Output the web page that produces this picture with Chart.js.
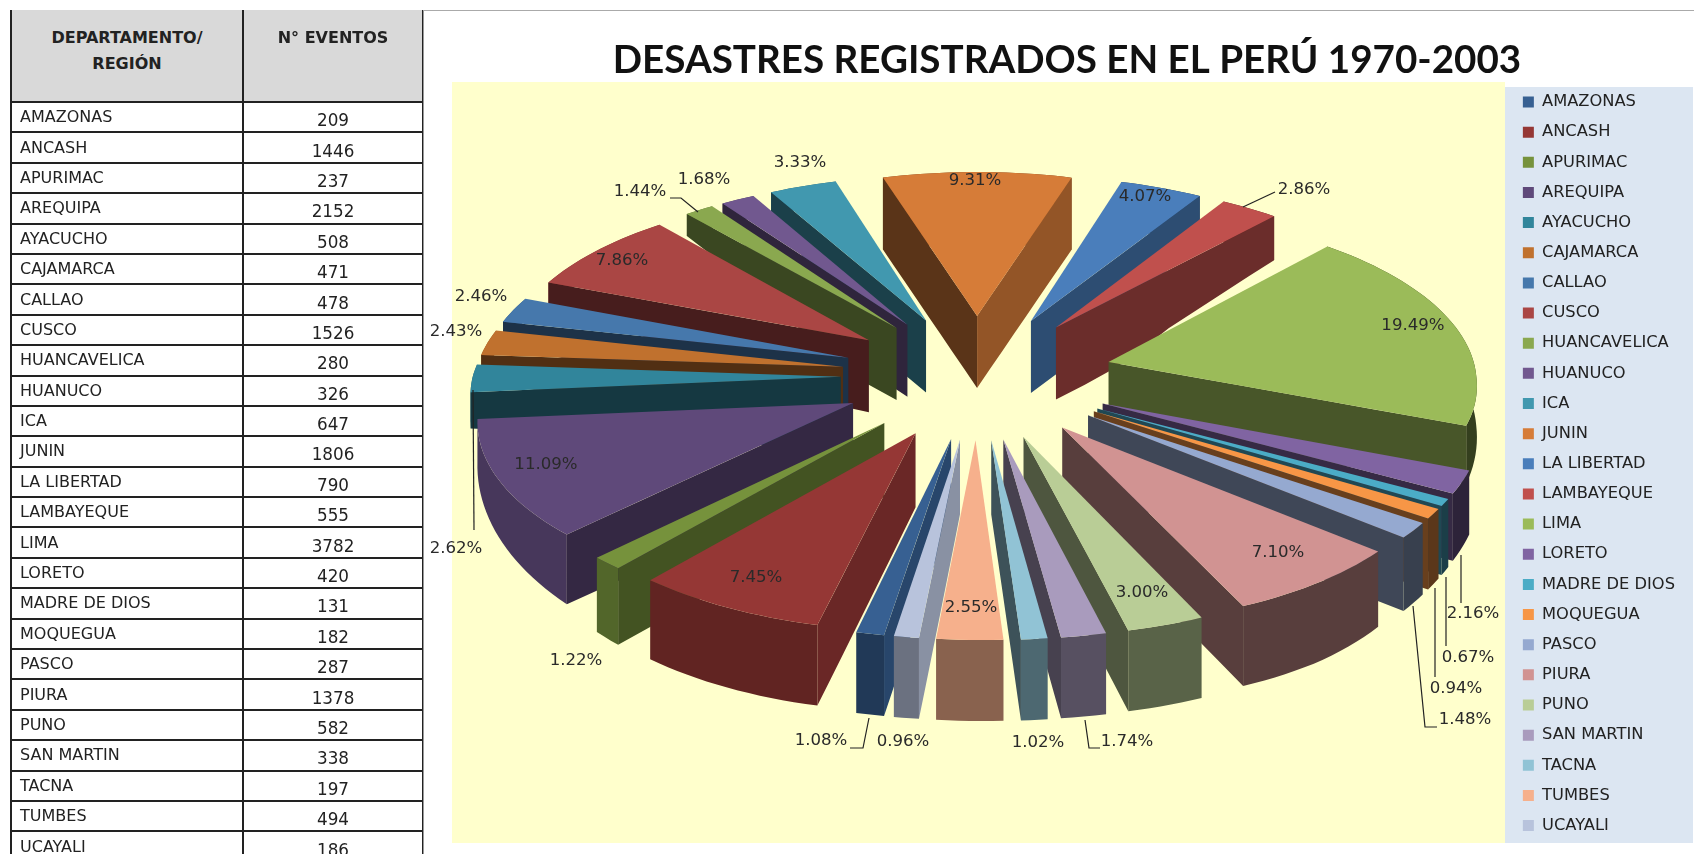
<!DOCTYPE html>
<html lang="es">
<head>
<meta charset="utf-8">
<title>Desastres registrados en el Perú 1970-2003</title>
<script src="https://cdn.jsdelivr.net/npm/chart.js@4/dist/chart.umd.js"></script>
<style>
html,body{margin:0;padding:0;width:1694px;height:854px;overflow:hidden;background:#fff}
#tableWrap{position:absolute;left:9px;top:10px;width:414px;height:844px;overflow:hidden;filter:blur(.4px)}
table{border-collapse:collapse;table-layout:fixed;width:412px;font-family:"DejaVu Sans",sans-serif;color:#222;margin-left:1px}
col.a{width:232px}col.b{width:180px}
th,td{border:2px solid #222;padding:0;box-sizing:border-box;overflow:hidden;white-space:nowrap}
th{height:92px;background:#d9d9d9;font-size:16px;line-height:25.5px;font-weight:bold;vertical-align:top;padding-top:15px;text-align:center;border-top:none}
td{height:30.4px;font-size:16px}
td.n{padding-left:8px;padding-bottom:1px}
td.v{text-align:center;padding-top:6px;font-size:16.8px}
#edge{position:absolute;left:423px;top:10px;width:1px;height:844px;background:#999}
#topline{position:absolute;left:423px;top:10px;width:1271px;height:1px;background:#aaa}
#holder{position:absolute;left:425px;top:0;width:1260px;height:848px;filter:blur(.4px)}
#legendBack{position:absolute;left:1505px;top:87px;width:188px;height:756px;background:#dce6f2}
</style>
</head>
<body>
<div id="tableWrap"><table id="tbl"></table></div>
<div id="edge"></div><div id="topline"></div>
<div id="legendBack"></div>
<div id="holder"><canvas id="cv"></canvas></div>
<script>
const categories = ["AMAZONAS","ANCASH","APURIMAC","AREQUIPA","AYACUCHO","CAJAMARCA","CALLAO","CUSCO","HUANCAVELICA","HUANUCO","ICA","JUNIN","LA LIBERTAD","LAMBAYEQUE","LIMA","LORETO","MADRE DE DIOS","MOQUEGUA","PASCO","PIURA","PUNO","SAN MARTIN","TACNA","TUMBES","UCAYALI"];
const eventCounts = [209,1446,237,2152,508,471,478,1526,280,326,647,1806,790,555,3782,420,131,182,287,1378,582,338,197,494,186];
const tableHeaders = ["DEPARTAMENTO/<br>REGIÓN","N° EVENTOS"];
const titleText = "DESASTRES REGISTRADOS EN EL PERÚ 1970-2003";
const sliceColors = ["#376092","#953735","#76923c","#5f497a","#31859b","#c0712e","#4678ac","#aa4644","#8aa84f","#71588f","#4198af","#d67c38","#4a7ebb","#c0504d","#9bbb59","#8064a2","#4bacc6","#f79646","#95a9d0","#d19392","#b9cd96","#a99bbd","#91c3d5","#f6b08c","#b8c3dc"];

/* Label annotation placement (page pixels), not data */
const labelPlaces = [
 {x:821,y:741,line:[[850,748],[863,748],[869,718]]},{x:756,y:578},{x:576,y:661},{x:546,y:465},
 {x:456,y:549,line:[[474,530],[473,390]]},{x:456,y:332},{x:481,y:297},{x:622,y:261},
 {x:640,y:192,line:[[670,198],[681,198],[698,212]]},{x:704,y:180},{x:800,y:163},{x:975,y:181},
 {x:1145,y:197},{x:1304,y:190,line:[[1275,192],[1243,207]]},{x:1413,y:326},
 {x:1473,y:614,line:[[1461,603],[1461,555]]},{x:1468,y:658,line:[[1446,646],[1446,577]]},
 {x:1456,y:689,line:[[1435,677],[1435,588]]},{x:1465,y:720,line:[[1437,727],[1425,727],[1413,606]]},
 {x:1278,y:553},{x:1142,y:593},{x:1127,y:742,line:[[1100,748],[1089,748],[1085,720]]},
 {x:1038,y:743},{x:971,y:608},{x:903,y:742}
];

const canvasLeft = 425;
const view = {cx:977-canvasLeft, cy:376, persp:0.0936, ground:168, explode:0.37, frontShear:7};
const plotBox = {l:452,t:82,r:1505,b:843};

/* table */
(function(){
  let html='<colgroup><col class="a"><col class="b"></colgroup><tr><th>'+tableHeaders[0]+'</th><th>'+tableHeaders[1]+'</th></tr>';
  categories.forEach((c,i)=>{html+='<tr><td class="n">'+c+'</td><td class="v">'+eventCounts[i]+'</td></tr>';});
  document.getElementById('tbl').innerHTML=html;
})();

function shade(hex,f){
  const n=parseInt(hex.slice(1),16);
  return 'rgb('+Math.round((n>>16&255)*f)+','+Math.round((n>>8&255)*f)+','+Math.round((n&255)*f)+')';
}
function clamp01(v){return Math.max(0,Math.min(1,v));}
function project(X,Y){
  const s=1/(1-view.persp*Y);
  return {x:view.cx+X*s+view.frontShear*Math.max(0,Y), y:view.cy+view.ground*Y*s};
}
/* wall height in px for a ground point (u and Y in radius units) */
function wallHeight(u,Y){
  const r=Math.hypot(u,Y);
  const f=clamp01((r-0.4)/0.95);
  const w=1-clamp01(Y/(r||1)+0.2);
  const g=clamp01((Math.abs(u)-0.35)/0.2);
  return 72+9*Math.max(0,Y)/1.37-f*w*g*(u<0?50:28);
}

const pie3d={
  id:'pie3d',
  beforeDraw(chart){
    const c=chart.ctx;
    c.save();
    c.fillStyle='#ffffcc';
    c.fillRect(plotBox.l-canvasLeft,plotBox.t,plotBox.r-plotBox.l,plotBox.b-plotBox.t);
    c.restore();
  },
  beforeDatasetsDraw(chart){
    const c=chart.ctx, arcs=chart.getDatasetMeta(0).data;
    const items=arcs.map((el,i)=>{
      const mid=(el.startAngle+el.endAngle)/2;
      return {el,i,mid};
    }).sort((a,b)=>Math.sin(a.mid)-Math.sin(b.mid));
    c.save();
    items.forEach(({el,i,mid})=>{
      const R=el.outerRadius, color=el.options.backgroundColor;
      const ox=Math.cos(mid)*view.explode, oy=Math.sin(mid)*view.explode;
      const pt=(u,v)=>{const p=project(u*R,v);return {x:p.x,y:p.y,h:wallHeight(u,v)};};
      const apex=pt(ox,oy);
      const steps=Math.max(2,Math.ceil((el.endAngle-el.startAngle)/0.03));
      const rim=[];
      for(let k=0;k<=steps;k++){
        const a=el.startAngle+(el.endAngle-el.startAngle)*k/steps;
        rim.push(pt(ox+Math.cos(a),oy+Math.sin(a)));
      }
      const rimShade=0.55-0.22*Math.cos(mid);
      const inner=rim[Math.floor(steps/2)];
      const radial=[[rim[0],el.startAngle],[rim[steps],el.endAngle]];
      const edgeWall=(end,a)=>{
        const cross=(end.x-apex.x)*(inner.y-apex.y)-(end.y-apex.y)*(inner.x-apex.x);
        const down=(end.x-apex.x);
        if(cross*down>=0) return;
        const pts=[];
        for(let t=0;t<=8;t++){
          pts.push(pt(ox+Math.cos(a)*t/8,oy+Math.sin(a)*t/8));
        }
        /* walls on the right of their slice catch more light the steeper they run */
        const steep=Math.abs(end.y-apex.y)/Math.hypot(end.x-apex.x,end.y-apex.y);
        c.fillStyle=shade(color,end.x>inner.x?0.4+0.35*steep:0.42);
        c.beginPath();
        pts.forEach((p,n)=>n?c.lineTo(p.x,p.y):c.moveTo(p.x,p.y));
        for(let n=pts.length-1;n>=0;n--) c.lineTo(pts[n].x,pts[n].y+pts[n].h);
        c.closePath();c.fill();
      };
      // outer wall
      c.fillStyle=shade(color,rimShade);
      c.beginPath();
      rim.forEach((p,n)=>n?c.lineTo(p.x,p.y):c.moveTo(p.x,p.y));
      for(let n=steps;n>=0;n--) c.lineTo(rim[n].x,rim[n].y+rim[n].h);
      c.closePath();c.fill();
      // radial walls
      radial.forEach(([end,a])=>edgeWall(end,a));
      // top face
      c.fillStyle=color;
      c.beginPath();
      c.moveTo(apex.x,apex.y);
      rim.forEach(p=>c.lineTo(p.x,p.y));
      c.closePath();c.fill();
    });
    // labels
    const total=eventCounts.reduce((a,b)=>a+b,0);
    c.font='16.6px "DejaVu Sans", sans-serif';
    c.textAlign='center';c.textBaseline='middle';
    labelPlaces.forEach((p,i)=>{
      if(p.line){
        c.strokeStyle='#222';c.lineWidth=1.2;c.beginPath();
        p.line.forEach((q,n)=>n?c.lineTo(q[0]-canvasLeft,q[1]):c.moveTo(q[0]-canvasLeft,q[1]));
        c.stroke();
      }
      c.fillStyle='#2a2a2a';
      c.fillText((eventCounts[i]/total*100).toFixed(2)+'%',p.x-canvasLeft,p.y);
    });
    c.restore();
    return false;
  }
};

new Chart(document.getElementById('cv'),{
  type:'pie',
  data:{labels:categories,datasets:[{data:eventCounts,backgroundColor:sliceColors,borderWidth:0,offset:0}]},
  plugins:[pie3d],
  options:{
    responsive:true,maintainAspectRatio:false,animation:false,
    rotation:-170.3,radius:368,
    layout:{padding:{left:24}},
    plugins:{
      tooltip:{enabled:false},
      title:{display:true,text:titleText,color:'#111',align:'center',
        font:{family:'Lato, sans-serif',size:38.6,weight:'bold',lineHeight:1},
        padding:{top:41,bottom:0}},
      legend:{display:true,position:'right',align:'center',fullSize:false,
        labels:{boxWidth:11,boxHeight:11,padding:13.85,color:'#222',
          font:{family:'"DejaVu Sans", sans-serif',size:16.3}}}
    }
  }
});
</script>
</body>
</html>
